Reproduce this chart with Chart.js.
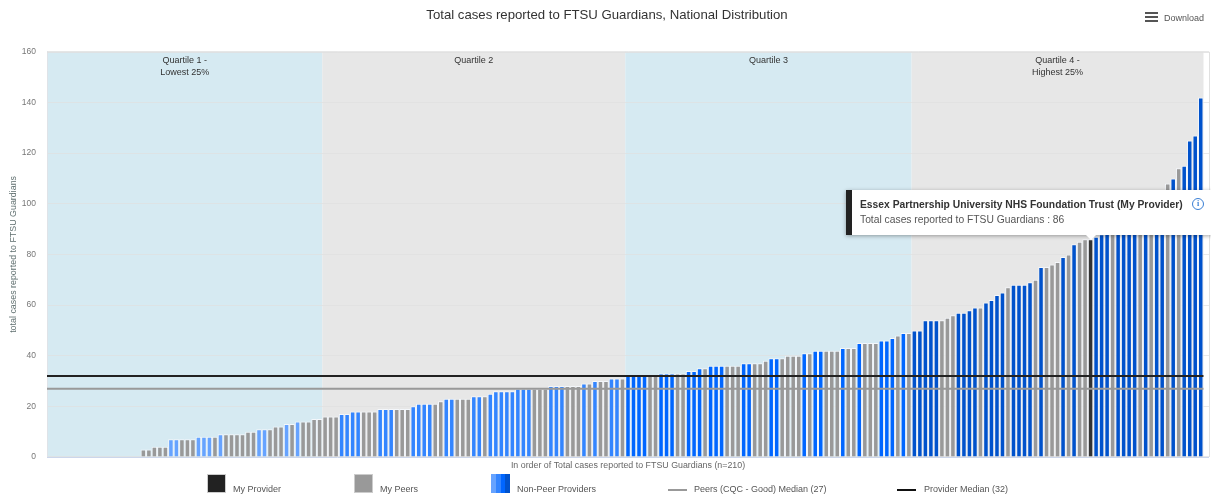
<!DOCTYPE html>
<html>
<head>
<meta charset="utf-8">
<style>
  html, body { margin: 0; padding: 0; background: #fff; overflow: hidden; }
  body { width: 1211px; height: 497px; position: relative; font-family: "Liberation Sans", Arial, sans-serif; }
  #wrap { position: absolute; left: 0; top: 0; width: 1211px; height: 497px; }
  .txt { position: absolute; font-size: 9px; color: #555; white-space: nowrap; line-height: 12px; }
  .sw { position: absolute; top: 474px; width: 19px; height: 19px; box-sizing: border-box; border: 1px solid #ccc; }
  .ln { position: absolute; top: 488.5px; width: 19px; height: 2px; }
  #menu { position: absolute; left: 1145px; top: 12px; width: 13px; height: 10px; }
  #menu i { display: block; height: 2px; background: #555; margin-bottom: 2px; }
  #tip { position: absolute; left: 846px; top: 190px; width: 365px; height: 45px; box-sizing: border-box;
         background: #fff; border-left: 6px solid #222; box-shadow: 0 1px 4px rgba(0,0,0,.35); }
  #tip b { position: absolute; left: 8px; top: 8px; font-size: 10.3px; color: #333; line-height: 14px; white-space: nowrap; }
  #tip span { position: absolute; left: 8px; top: 23px; font-size: 10.3px; color: #555; line-height: 14px; white-space: nowrap; }
  #tip em { position: absolute; left: 340px; top: 8px; width: 12px; height: 12px; box-sizing: border-box; border: 1px solid #3a7fd5; border-radius: 50%;
            font: bold 8px/10px "Liberation Serif", serif; color: #3a7fd5; text-align: center; }
  #notch { position: absolute; top: 235px; width: 0; height: 0; border-left: 5px solid transparent; border-right: 5px solid transparent; border-top: 5px solid #fff; }
</style>
</head>
<body>
<div id="wrap"><canvas id="c" width="1211" height="497"></canvas></div>
<div id="menu"><i></i><i></i><i></i></div>
<div class="txt" style="left:1164px;top:12px">Download</div>

<div class="sw" style="left:207px;background:#222"></div>
<div class="txt" style="left:233px;top:483px">My Provider</div>
<div class="sw" style="left:354px;background:#999"></div>
<div class="txt" style="left:380px;top:483px">My Peers</div>
<div class="sw" style="left:491px;background:linear-gradient(90deg,#66a3ff 0 25%,#3385ff 25% 50%,#0066ff 50% 75%,#0052cc 75% 100%);border:0"></div>
<div class="txt" style="left:517px;top:483px">Non-Peer Providers</div>
<div class="ln" style="left:668px;background:#999"></div>
<div class="txt" style="left:694px;top:483px">Peers (CQC - Good) Median (27)</div>
<div class="ln" style="left:897px;background:#111"></div>
<div class="txt" style="left:924px;top:483px">Provider Median (32)</div>

<div id="tip"><b id="tipName"></b><span id="tipLine"></span><em>i</em></div>
<div id="notch"></div>

<script src="https://cdn.jsdelivr.net/npm/chart.js@4/dist/chart.umd.js"></script>
<script>
const chartTitle = 'Total cases reported to FTSU Guardians, National Distribution';
const yAxisTitle = 'total cases reported to FTSU Guardians';
const xAxisTitle = 'In order of Total cases reported to FTSU Guardians (n=210)';
const providerName = 'Essex Partnership University NHS Foundation Trust (My Provider)';
const peerMedianValue = 27;
const providerMedianValue = 32;

// Providers sorted by total cases, lowest first (one row per quartile)
const caseCounts = [
  0,0,0,0,0,0,0,0,0,0,0,0,0,0,0,0,0,3,3,4,4,4,7,7,7,7,7,8,8,8,8,9,9,9,9,9,10,10,11,11,11,12,12,13,13,14,14,14,15,15,
  16,16,16,17,17,18,18,18,18,18,19,19,19,19,19,19,20,21,21,21,21,22,23,23,23,23,23,24,24,24,25,26,26,26,26,27,27,27,27,27,27,28,28,28,28,28,28,29,29,30,30,30,31,31,31,
  32,32,32,32,32,32,33,33,33,33,33,34,34,35,35,36,36,36,36,36,36,37,37,37,37,38,39,39,39,40,40,40,41,41,42,42,42,42,42,43,43,43,45,45,45,45,46,46,47,48,49,49,
  50,50,54,54,54,54,55,56,57,57,58,59,59,61,62,64,65,67,68,68,68,69,70,75,75,76,77,79,80,84,85,86,86,87,88,89,90,91,92,94,95,97,99,101,103,105,108,110,114,115,125,127,142
];
// p = peer, n = non-peer, m = my provider; same order as caseCounts
const providerGroups = [
  'pppppppppppppppppppppp' + 'nnpppnnnpnppppppnnpppnpnpppp',
  'pppnnnnpppnnnpppnnnnppnnpppnnpnnnnnnnnpppnnnpppnpnppnnp',
  'nnnnppnnnppnnnpnnnpppnnpppnnppppnpnnpppnppnpppnnnpnp',
  'nnnnnpppnnnnpnnnnpnnnnpnpppnpnppmnnnpnnnnpnpnnpnpnnnn'
].join('');
const quartileEnds = [50, 105, 157, 210];
const quartileLabels = [['Quartile 1 -', 'Lowest 25%'], ['Quartile 2'], ['Quartile 3'], ['Quartile 4 -', 'Highest 25%']];
const quartileBands = ['#d6eaf2', '#e7e7e7', '#d6eaf2', '#e7e7e7'];
const nonPeerShades = ['#66a3ff', '#3385ff', '#0066ff', '#0052cc'];
const peerColor = '#999999';
const myColor = '#333333';

// A blank trailing slot leaves the pale strip right of the last provider
const ranks = caseCounts.map((_, i) => String(i + 1)).concat('');
const myIndex = providerGroups.indexOf('m');

const barColors = caseCounts.map((_, i) => {
  const g = providerGroups[i];
  if (g === 'm') return myColor;
  if (g === 'p') return peerColor;
  return nonPeerShades[quartileEnds.findIndex(e => i < e)];
});

// Paints the quartile bands behind the grid and their captions above the bars
const quartileBandsPlugin = {
  id: 'quartileBands',
  beforeDraw(chart) {
    const { ctx, chartArea: a, scales: { x } } = chart;
    const half = x.width / ranks.length / 2;
    ctx.save();
    let start = 0;
    quartileEnds.forEach((end, q) => {
      const l = x.getPixelForValue(start) - half;
      const r = x.getPixelForValue(end - 1) + half;
      ctx.fillStyle = quartileBands[q];
      ctx.fillRect(l, a.top, r - l, a.bottom - a.top);
      start = end;
    });
    ctx.restore();
  },
  afterDatasetsDraw(chart) {
    const { ctx, chartArea: a, scales: { x } } = chart;
    ctx.save();
    ctx.strokeStyle = '#e0e0e0';
    ctx.lineWidth = 1;
    ctx.beginPath(); ctx.moveTo(a.left, a.top + .5); ctx.lineTo(a.right, a.top + .5); ctx.stroke();
    ctx.beginPath(); ctx.moveTo(a.right + .5, a.top); ctx.lineTo(a.right + .5, a.bottom); ctx.stroke();
    ctx.strokeStyle = '#ccd6eb';
    ctx.beginPath(); ctx.moveTo(a.left, a.bottom + .5); ctx.lineTo(a.right, a.bottom + .5); ctx.stroke();
    ctx.fillStyle = '#333';
    ctx.font = '9px "Liberation Sans", Arial, sans-serif';
    ctx.textAlign = 'center';
    ctx.textBaseline = 'middle';
    let start = 0;
    quartileEnds.forEach((end, q) => {
      const cx = (x.getPixelForValue(start) + x.getPixelForValue(end - 1)) / 2;
      quartileLabels[q].forEach((s, n) => ctx.fillText(s, cx, a.top + 9 + n * 11.5));
      start = end;
    });
    ctx.restore();
  }
};

const chart = new Chart(document.getElementById('c'), {
  type: 'bar',
  plugins: [quartileBandsPlugin],
  data: {
    labels: ranks,
    datasets: [
      {
        type: 'line', label: 'Provider Median', order: 0, xAxisID: 'rankSpan',
        data: [{ x: 0, y: providerMedianValue }, { x: caseCounts.length, y: providerMedianValue }],
        borderColor: '#222', borderWidth: 2, pointRadius: 0
      },
      {
        type: 'line', label: 'Peers Median', order: 1, xAxisID: 'rankSpan',
        data: [{ x: 0, y: peerMedianValue }, { x: caseCounts.length, y: peerMedianValue }],
        borderColor: '#999', borderWidth: 2, pointRadius: 0
      },
      {
        label: 'Total cases', order: 2, grouped: false, data: caseCounts, backgroundColor: barColors,
        borderColor: '#f4f7fb', borderWidth: 1, inflateAmount: 0,
        barPercentage: 1, categoryPercentage: 1
      }
    ]
  },
  options: {
    responsive: false,
    animation: false,
    layout: { padding: { top: 0, right: 2, bottom: 26, left: 5 } },
    plugins: {
      legend: { display: false },
      tooltip: { enabled: false },
      title: {
        display: true, text: chartTitle, color: '#333',
        font: { family: '"Liberation Sans", Arial, sans-serif', size: 13.2, weight: 'normal' },
        padding: { top: 7, bottom: 29 }
      }
    },
    scales: {
      x: {
        grid: { display: false },
        border: { display: false },
        ticks: { display: false },
        title: {
          display: true, text: xAxisTitle, color: '#666',
          font: { family: '"Liberation Sans", Arial, sans-serif', size: 8.85 }, padding: { top: 2, bottom: 0 }
        },
        afterFit(s) { s.height = 14; }
      },
      rankSpan: { type: 'linear', axis: 'x', offset: false, min: 0, max: caseCounts.length + 1, display: false },
      y: {
        min: 0, max: 160,
        ticks: {
          stepSize: 20, color: '#777', padding: 11,
          font: { family: '"Liberation Sans", Arial, sans-serif', size: 8.5 }
        },
        grid: { color: 'rgba(224,224,224,.7)', drawTicks: false },
        border: { color: '#dfe3e8' },
        title: {
          display: true, text: yAxisTitle, color: '#5f6f6f',
          font: { family: '"Liberation Sans", Arial, sans-serif', size: 8.9 }, padding: { top: 3, bottom: 0 }
        },
        afterFit(s) { s.width = 42; }
      }
    }
  }
});

// Callout for the highlighted provider, hung over its bar
document.getElementById('tipName').textContent = providerName;
document.getElementById('tipLine').textContent = 'Total cases reported to FTSU Guardians : ' + caseCounts[myIndex];
document.getElementById('notch').style.left = (chart.scales.x.getPixelForValue(myIndex) - 5) + 'px';
</script>
</body>
</html>
